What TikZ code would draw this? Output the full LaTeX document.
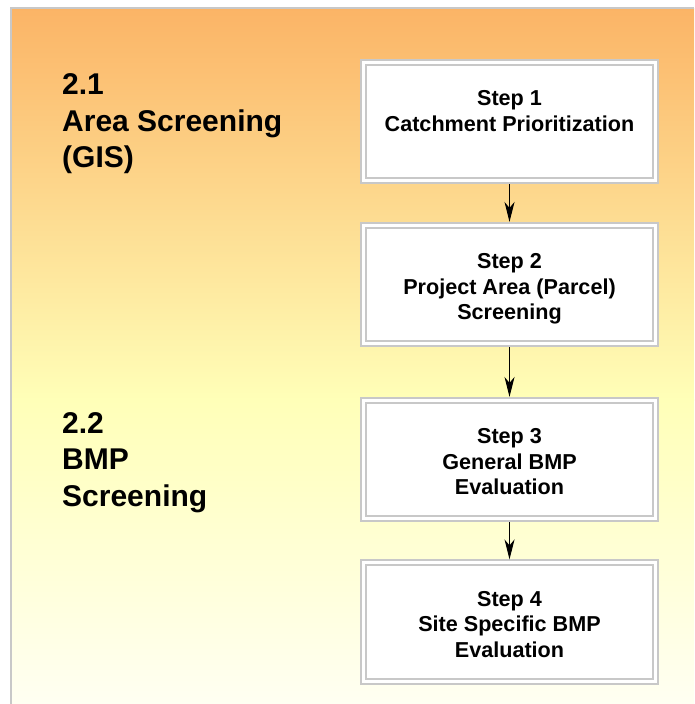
\documentclass[tikz,border=0pt]{standalone}
\usepackage{fontspec}
\setmainfont{Liberation Sans}
\usetikzlibrary{arrows.meta}

\definecolor{bgtop}{HTML}{FBB466}
\definecolor{bgmid}{HTML}{FFFFB8}
\definecolor{bgbot}{HTML}{FFFFF2}
\definecolor{frame}{HTML}{C8C8C8}

\tikzset{
  stepbox/.style={draw=frame, line width=1.6pt, fill=white,
    minimum width=297.5pt, minimum height=123.5pt, inner sep=0pt},
  innerline/.style={draw=frame, line width=1.6pt},
  steptext/.style={anchor=north, align=center, inner sep=0pt,
    font=\fontsize{21.6}{25.5}\selectfont\bfseries},
  phasetext/.style={anchor=north west, align=left, inner sep=0pt,
    font=\fontsize{30}{36.5}\selectfont\bfseries},
  flowarrow/.style={draw=black, line width=1pt,
    -{Stealth[length=20pt, width=10pt, inset=6pt]}}
}

\begin{document}
\begin{tikzpicture}[x=1pt, y=-1pt]
  \useasboundingbox (0,0) rectangle (694,704);
  \fill[white] (0,0) rectangle (694,704);

  % graded backdrop: orange at the top, pale yellow below
  \shade[top color=bgtop, bottom color=bgmid] (11,8) rectangle (694,400);
  \shade[top color=bgmid, bottom color=bgbot] (11,399.5) rectangle (694,704);
  \draw[frame, line width=1.5pt] (11,704) -- (11,8) -- (694,8);

  % phase headings
  \node[phasetext] (l1) at (62,73.5) {2.1\\Area Screening\\(GIS)};
  \node[phasetext] (l2) at (62,412) {2.2\\BMP\\Screening};

  % step boxes
  \node[stepbox] (s1) at (509.5,121.5) {};
  \node[stepbox] (s2) at (509.5,284.5) {};
  \node[stepbox] (s3) at (509.5,459.5) {};
  \node[stepbox] (s4) at (509.5,622) {};

  \foreach \b in {s1,s2,s3,s4}
    \draw[innerline] ([shift={(5.8pt,-5.8pt)}]\b.north west)
      rectangle ([shift={(-5.8pt,5.8pt)}]\b.south east);

  \node[steptext] (t1) at ([yshift=-31.5pt]s1.north) {Step 1\\Catchment Prioritization};
  \node[steptext] (t2) at ([yshift=-31.5pt]s2.north) {Step 2\\Project Area (Parcel)\\Screening};
  \node[steptext] (t3) at ([yshift=-31.5pt]s3.north) {Step 3\\General BMP\\Evaluation};
  \node[steptext] (t4) at ([yshift=-31.5pt]s4.north) {Step 4\\Site Specific BMP\\Evaluation};

  % flow between steps
  \draw[flowarrow] (s1.south) -- (s2.north);
  \draw[flowarrow] (s2.south) -- (s3.north);
  \draw[flowarrow] (s3.south) -- (s4.north);
\end{tikzpicture}
\end{document}
